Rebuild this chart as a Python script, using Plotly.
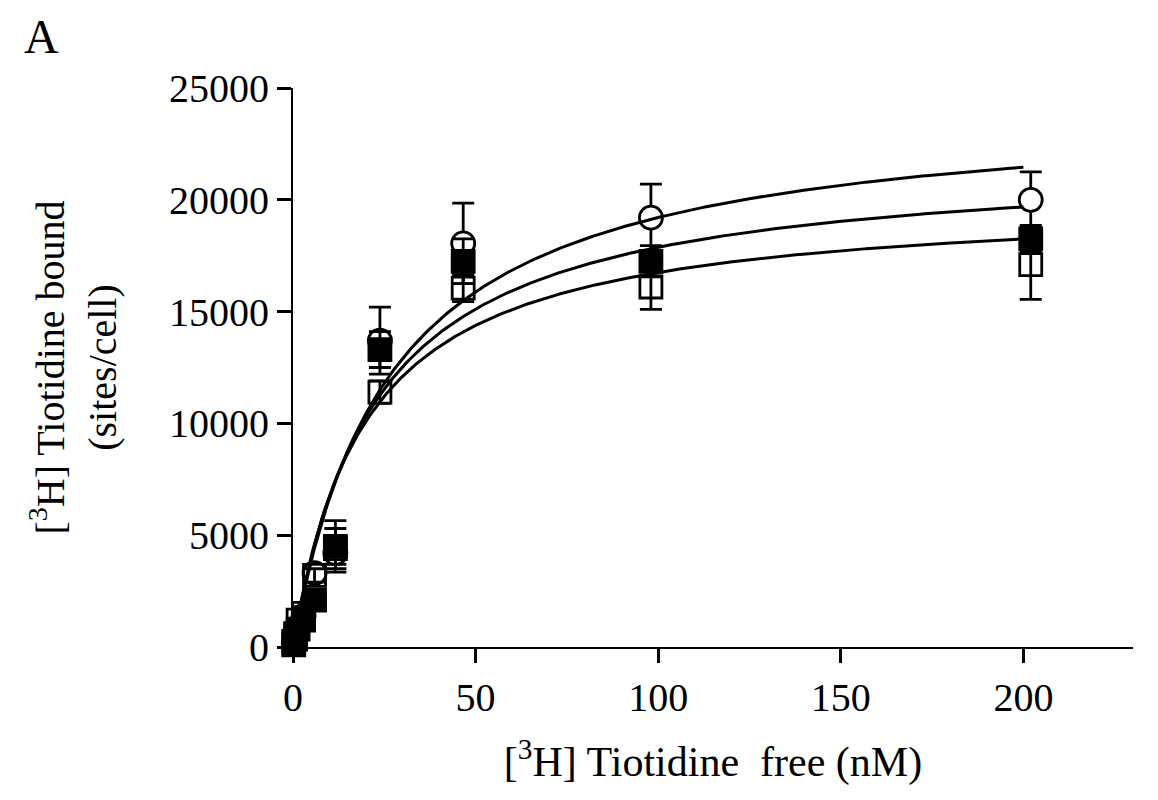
import numpy as np
import plotly.graph_objects as go

# ---- data ----
x_free = [0.2, 0.7, 1.4, 2.9, 5.9, 11.6, 23.8, 46.6, 98.0, 202.0]

circle_y   = [150, 500, 900, 1400, 3300, 4200, 13700, 18050, 19200, 20000]
circle_err = [100, 150, 200, 300, 300, 500, 1500, 1800, 1500, 1250]

filled_y   = [100, 350, 800, 1200, 2100, 4500, 13300, 17250, 17250, 18250]
filled_err = [100, 150, 200, 300, 300, 1150, 800, 1000, 700, 600]

open_y     = [250, 600, 1200, 1500, 3200, 4400, 11400, 16050, 16100, 17100]
open_err   = [100, 200, 250, 300, 300, 900, 500, 600, 1000, 1550]

# one-site binding fits: (Bmax, Kd)
fit_circle = (24300, 26.5)
fit_filled = (21884, 22.4)
fit_open = (20048, 19.7)

x_ticks = [0, 50, 100, 150, 200]
y_ticks = [0, 5000, 10000, 15000, 20000, 25000]

FONT = "Liberation Serif, Times New Roman, serif"

fig = go.Figure()


def err(vals):
    return dict(type="data", array=vals, visible=True, color="black",
                thickness=2.8, width=11)


fig.add_trace(go.Scatter(
    x=x_free, y=circle_y, mode="markers", error_y=err(circle_err),
    marker=dict(symbol="circle", size=23, color="white",
                line=dict(color="black", width=2.8)),
    cliponaxis=False, showlegend=False))
fig.add_trace(go.Scatter(
    x=x_free, y=open_y, mode="markers", error_y=err(open_err),
    marker=dict(symbol="square", size=22, color="rgba(255,255,255,0)",
                line=dict(color="black", width=2.8)),
    cliponaxis=False, showlegend=False))
fig.add_trace(go.Scatter(
    x=x_free, y=filled_y, mode="markers", error_y=err(filled_err),
    marker=dict(symbol="square", size=22, color="black",
                line=dict(color="black", width=2.8)),
    cliponaxis=False, showlegend=False))

xc = np.linspace(0, 200, 400)
for bmax, kd in (fit_circle, fit_filled, fit_open):
    fig.add_trace(go.Scatter(
        x=xc, y=bmax * xc / (kd + xc), mode="lines",
        line=dict(color="black", width=3), showlegend=False,
        cliponaxis=False))

fig.update_layout(
    width=1158, height=800,
    margin=dict(l=293, r=25, t=88, b=153),
    paper_bgcolor="white", plot_bgcolor="white",
    font=dict(family=FONT, color="black", size=40),
    xaxis=dict(
        range=[0, 230], tickvals=x_ticks, ticktext=[str(v) for v in x_ticks],
        showline=True, linecolor="black", linewidth=2, ticks="outside",
        ticklen=14, tickwidth=2.5, tickcolor="black", showgrid=False,
        zeroline=False, tickfont=dict(size=40, family=FONT),
        title=dict(text="[<sup>3</sup>H] Tiotidine  free (nM)",
                   font=dict(size=42, family=FONT), standoff=28)),
    yaxis=dict(
        range=[0, 25000], tickvals=y_ticks, ticktext=[str(v) for v in y_ticks],
        showline=True, linecolor="black", linewidth=2, ticks="outside",
        ticklen=14, tickwidth=2.5, tickcolor="black", showgrid=False,
        zeroline=False, tickfont=dict(size=40, family=FONT),
        title=dict(text="[<sup>3</sup>H] Tiotidine bound<br>(sites/cell)",
                   font=dict(size=40, family=FONT), standoff=40)),
    annotations=[dict(text="A", xref="paper", yref="paper",
                      x=(22 - 293) / 840, y=1 + (88 - 8) / 559,
                      xanchor="left", yanchor="top", showarrow=False,
                      font=dict(size=48, family=FONT))],
)

fig.write_html("out.html")
